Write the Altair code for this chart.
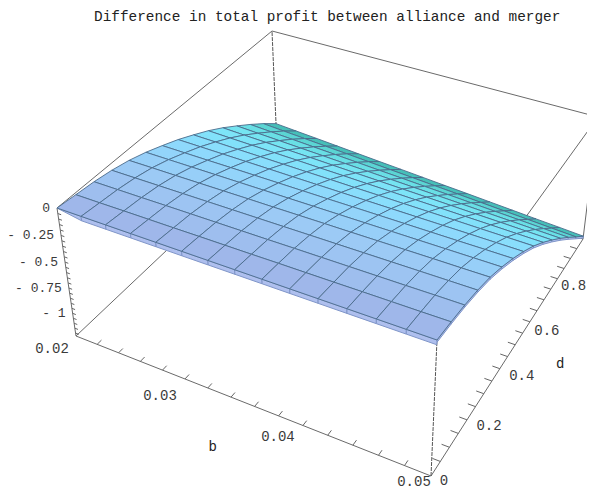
import numpy as np
import pandas as pd
import altair as alt

TITLE = "Difference in total profit between alliance and merger"
B_RANGE = [0.02, 0.05]
D_RANGE = [0.0, 1.0]
Z_RANGE = [-1.23, 0.0]

# surface values z[b index][d index], 15 x 15 mesh
Z = [
 [0,-.018,-.035,-.062,-.1,-.152,-.215,-.282,-.36,-.442,-.535,-.638,-.745,-.858,-.98],
 [0,-.018,-.035,-.062,-.1,-.153,-.217,-.285,-.364,-.449,-.544,-.649,-.758,-.873,-.996],
 [0,-.017,-.035,-.062,-.101,-.154,-.219,-.288,-.369,-.455,-.552,-.659,-.77,-.887,-1.011],
 [0,-.017,-.034,-.062,-.101,-.155,-.22,-.291,-.373,-.462,-.561,-.67,-.783,-.902,-1.027],
 [0,-.017,-.034,-.062,-.101,-.156,-.222,-.294,-.378,-.468,-.569,-.68,-.795,-.916,-1.043],
 [0,-.016,-.034,-.062,-.101,-.157,-.224,-.298,-.382,-.475,-.578,-.691,-.808,-.931,-1.059],
 [0,-.016,-.034,-.062,-.102,-.158,-.226,-.301,-.386,-.481,-.587,-.701,-.821,-.946,-1.074],
 [0,-.016,-.034,-.062,-.102,-.159,-.228,-.304,-.391,-.488,-.595,-.712,-.833,-.96,-1.09],
 [0,-.015,-.033,-.062,-.102,-.16,-.229,-.307,-.395,-.494,-.604,-.722,-.846,-.975,-1.106],
 [0,-.015,-.033,-.062,-.103,-.161,-.231,-.31,-.4,-.501,-.612,-.733,-.858,-.989,-1.121],
 [0,-.015,-.033,-.062,-.103,-.162,-.233,-.313,-.404,-.507,-.621,-.743,-.871,-1.004,-1.137],
 [0,-.014,-.033,-.062,-.103,-.163,-.235,-.316,-.408,-.514,-.63,-.754,-.884,-1.019,-1.153],
 [0,-.014,-.033,-.062,-.103,-.164,-.237,-.319,-.413,-.52,-.638,-.764,-.896,-1.033,-1.169],
 [0,-.014,-.032,-.062,-.104,-.165,-.238,-.322,-.417,-.527,-.647,-.775,-.909,-1.048,-1.184],
 [0,-.013,-.032,-.062,-.104,-.166,-.24,-.325,-.421,-.533,-.656,-.785,-.921,-1.062,-1.2],
]
EDGE_DROP = 0.04  # thin lip along the two nearest surface edges

B_TICKS = [0.02, 0.03, 0.04, 0.05]
D_TICKS = [0.0, 0.2, 0.4, 0.6, 0.8]
Z_TICKS = [0.0, -0.25, -0.5, -0.75, -1.0]
Z_TICK_TEXT = ["0", "- 0.25", "- 0.5", "- 0.75", "- 1"]
B_TICK_TEXT = ["0.02", "0.03", "0.04", "0.05"]
D_TICK_TEXT = ["0", "0.2", "0.4", "0.6", "0.8"]
B_LABEL_SHIFT = [(-24, 13), (-25, 17), (-25, 12), (-17, 6)]
D_LABEL_SHIFT = [(13, 5), (22, 6), (22, 7), (17, 9), (16, 7)]

# camera calibration: where the eight cube corners fall in the picture
CUBE = [(0,0,1),(0,0,0),(1,0,0),(1,0,1),(0,1,1),(0,1,0),(1,1,1),(1,1,0)]
SCREEN = [(57,208),(76,336),(431,476),(437,340),(272,31),(277,146),(598,117),(583,239)]

A, rhs = [], []
for (u, v, w), (sx, sy) in zip(CUBE, SCREEN):
    A.append([u, v, w, 1, 0, 0, 0, 0, -sx*u, -sx*v, -sx*w]); rhs.append(sx)
    A.append([0, 0, 0, 0, u, v, w, 1, -sy*u, -sy*v, -sy*w]); rhs.append(sy)
p = np.linalg.lstsq(np.array(A, float), np.array(rhs, float), rcond=None)[0]
DEPTH = [p[8], p[9], p[10], 1.0]
H = [DEPTH[0]*u + DEPTH[1]*v + DEPTH[2]*w + DEPTH[3] for (u, v, w) in CUBE]

def project(b, d, z):
    u = (b - B_RANGE[0]) / (B_RANGE[1] - B_RANGE[0])
    v = (d - D_RANGE[0]) / (D_RANGE[1] - D_RANGE[0])
    w = (z - Z_RANGE[0]) / (Z_RANGE[1] - Z_RANGE[0])
    nx = ny = nw = 0.0
    for (cu, cv, cw), (sx, sy), h in zip(CUBE, SCREEN, H):
        t = (u if cu else 1-u) * (v if cv else 1-v) * (w if cw else 1-w) * h
        nx += t * sx; ny += t * sy; nw += t
    return nx / nw, ny / nw

n = len(Z)
bs = [B_RANGE[0] + (B_RANGE[1]-B_RANGE[0]) * i / (n-1) for i in range(n)]
ds = [D_RANGE[0] + (D_RANGE[1]-D_RANGE[0]) * j / (n-1) for j in range(n)]

cells = []
cid = 0
for j in range(n-2, -1, -1):
    for i in range(n-1):
        shade = (ds[j] + ds[j+1]) / 2
        corners = [(i,j),(i+1,j),(i+1,j+1),(i,j+1),(i,j)]
        for k,(a,c) in enumerate(corners):
            x,y = project(bs[a], ds[c], Z[a][c])
            cells.append(dict(x=x,y=y,cell=cid,pt=k,shade=shade))
        cid += 1
cells = pd.DataFrame(cells)

lip = []
cid = 0
def add_lip(p0, p1, d0, d1):
    global cid
    (a0,c0),(a1,c1) = p0,p1
    quad = [(a0,c0,Z[a0][c0]),(a1,c1,Z[a1][c1]),(a1,c1,Z[a1][c1]-d1),(a0,c0,Z[a0][c0]-d0),(a0,c0,Z[a0][c0])]
    for k,(a,c,zz) in enumerate(quad):
        x,y = project(bs[a], ds[c], zz)
        lip.append(dict(x=x,y=y,cell=cid,pt=k))
    cid += 1
for j in range(n-1):
    add_lip((n-1,j),(n-1,j+1),EDGE_DROP/2,EDGE_DROP/2)
for i in range(n-1):
    add_lip((i,0),(i+1,0),0 if i==0 else EDGE_DROP,EDGE_DROP)
lip = pd.DataFrame(lip)

b0,b1 = B_RANGE; d0,d1 = D_RANGE; z0,z1 = Z_RANGE
def seg(rows, a, c):
    xa,ya = project(*a); xc,yc = project(*c)
    rows.append(dict(x=xa,y=ya,x2=xc,y2=yc))

solid, dashed, ticks = [], [], []
seg(solid,(b0,d0,z1),(b0,d1,z1))
seg(solid,(b0,d1,z1),(b1,d1,z1))
seg(solid,(b1,d1,z1),(b1,d0,z1))
seg(solid,(b0,d0,z0),(b0,d1,z0))
seg(solid,(b1,d1,z0),(b1,d1,z1))
seg(solid,(b0,d0,z0),(b1,d0,z0))
seg(solid,(b1,d0,z0),(b1,d1,z0))
seg(solid,(b0,d0,z0),(b0,d0,z1))
seg(dashed,(b1,d0,z0),(b1,d0,z1))
seg(dashed,(b0,d1,z0),(b0,d1,z1))

for t in np.arange(0.022, 0.0495, 0.002):
    seg(ticks,(t,d0,z0),(t,d0+0.018,z0))
for t in np.arange(0.05, 1.001, 0.05):
    seg(ticks,(b1,t,z0),(b1-0.0006,t,z0))
for t in np.arange(-1.2, -0.01, 0.05):
    seg(ticks,(b0,d0,t),(b0+0.0003,d0,t))

labels = []
for t,s in zip(Z_TICKS,Z_TICK_TEXT):
    x,y = project(b0,d0,t); labels.append(dict(x=x-7,y=y,t=s,a="right"))
for t,s,(dx,dy) in zip(B_TICKS,B_TICK_TEXT,B_LABEL_SHIFT):
    x,y = project(t,d0,z0); labels.append(dict(x=x+dx,y=y+dy,t=s,a="center"))
for t,s,(dx,dy) in zip(D_TICKS,D_TICK_TEXT,D_LABEL_SHIFT):
    x,y = project(b1,t,z0); labels.append(dict(x=x+dx,y=y+dy,t=s,a="center"))
labels = pd.DataFrame(labels)

x,y = project(0.035,d0,z0)
names = pd.DataFrame([dict(x=x-30,y=y+45,t="b")])
x2,y2 = project(b1,0.5,z0)
names = pd.concat([names,pd.DataFrame([dict(x=x2+45,y=y2+19,t="d")])])

XS = alt.Scale(domain=[8,587],nice=False,zero=False)
YS = alt.Scale(domain=[490,8],nice=False,zero=False)
X = alt.X("x:Q",scale=XS,axis=None)
Y = alt.Y("y:Q",scale=YS,axis=None)

def rule(df,**kw):
    return alt.Chart(df).mark_rule(**kw).encode(x=X,y=Y,x2="x2:Q",y2="y2:Q")

shade_scale = alt.Scale(domain=[0,0.25,0.5,0.72,0.87,1.0],
    range=["#a0b4e8","#9ccaf5","#8cdcfc","#7ae6f6","#62dcdc","#3cb4aa"])

surface = alt.Chart(cells).mark_line(stroke="#4a6c8c",strokeWidth=1,strokeOpacity=0.9,strokeJoin="round").encode(
    x=X,y=Y,detail="cell:N",order="pt:Q",
    fill=alt.Fill("shade:Q",scale=shade_scale,legend=None))
lip_layer = alt.Chart(lip).mark_line(stroke="#7f95c8",strokeWidth=1,fill="#aebfee").encode(
    x=X,y=Y,detail="cell:N",order="pt:Q")

txt = alt.Chart(labels[labels.a=="right"]).mark_text(font="Liberation Mono",fontSize=13,align="right",color="#3a3a3a").encode(x=X,y=Y,text="t:N")
txt2 = alt.Chart(labels[labels.a=="center"]).mark_text(font="Liberation Mono",fontSize=14,align="center",color="#3a3a3a").encode(x=X,y=Y,text="t:N")
name_layer = alt.Chart(names).mark_text(font="Liberation Mono",fontSize=14,color="#222").encode(x=X,y=Y,text="t:N")

chart = alt.layer(
    rule(pd.DataFrame(solid),color="#6a6a6a",strokeWidth=1),
    rule(pd.DataFrame(dashed),color="#555555",strokeWidth=1,strokeDash=[4,1]),
    rule(pd.DataFrame(ticks),color="#666666",strokeWidth=1),
    lip_layer,surface,txt,txt2,name_layer,
).properties(
    width=579,height=482,
    title=alt.TitleParams(TITLE,font="Liberation Mono",fontSize=14.4,fontWeight="normal",color="#222",
                          anchor="start",frame="group",dx=86,offset=-23,baseline="middle"),
    autosize=alt.AutoSizeParams(type="none"),
    padding=0,
).configure_view(stroke=None)

chart.save("out.html",embed_options={"renderer":"svg","actions":False})
